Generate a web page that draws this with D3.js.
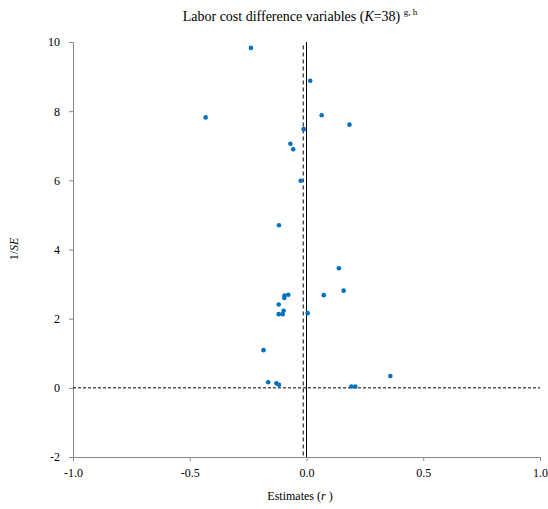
<!DOCTYPE html>
<html>
<head>
<meta charset="utf-8">
<script src="https://cdn.jsdelivr.net/npm/d3@7"></script>
<style>
  body { margin: 0; background: #fff; }
  svg text { font-family: "Liberation Serif", "Times New Roman", serif; }
</style>
</head>
<body>
<svg id="chart" width="548" height="509"></svg>
<script>
// Data (estimate r, precision 1/SE)
const estimates = [-0.238, -0.432, 0.016, 0.065, 0.184, -0.012, -0.069, -0.057,
  -0.025, -0.118, 0.139, 0.159, 0.074, -0.078, -0.094, -0.095, -0.119, -0.098,
  -0.119, -0.102, 0.005, -0.184, -0.164, -0.129, -0.118, 0.192, 0.209, 0.359];
const precisions = [9.83, 7.82, 8.88, 7.88, 7.61, 7.48, 7.06, 6.90,
  5.99, 4.70, 3.46, 2.81, 2.68, 2.69, 2.67, 2.60, 2.41, 2.23,
  2.13, 2.13, 2.16, 1.09, 0.16, 0.13, 0.09, 0.04, 0.04, 0.34];
const xTicks = [-1.0, -0.5, 0.0, 0.5, 1.0];
const yTicks = [-2, 0, 2, 4, 6, 8, 10];
const meanEstimate = -0.014;

const svg = d3.select("#chart");
const x = d3.scaleLinear().domain([-1, 1]).range([73, 540]);
const y = d3.scaleLinear().domain([-2, 10]).range([457, 42]);
const hy = s => s.replace("\u2212", "-");

// Axes
const xAxis = svg.append("g").attr("transform", `translate(0,${y(-2)})`)
  .call(d3.axisBottom(x).tickValues(xTicks).tickFormat(d => hy(d3.format(".1f")(d))).tickSizeOuter(0).tickSize(4));
const yAxis = svg.append("g").attr("transform", `translate(${x(-1)},0)`)
  .call(d3.axisLeft(y).tickValues(yTicks).tickFormat(d => hy(String(d))).tickSizeOuter(0).tickSize(4));
[xAxis, yAxis].forEach(g => {
  g.attr("font-family", "Liberation Serif").attr("font-size", 12);
  g.selectAll("path, line").attr("stroke", "#888").attr("stroke-width", 1);
  g.selectAll("text").attr("fill", "#000");
});
xAxis.selectAll("text").attr("dy", "1.05em");
yAxis.selectAll("text").attr("x", -13);

// Reference lines
svg.append("line").attr("x1", x(-1)).attr("x2", x(1)).attr("y1", y(0)).attr("y2", y(0))
  .attr("stroke", "#000").attr("stroke-width", 1).attr("stroke-dasharray", "3,2");
svg.append("line").attr("x1", x(0)).attr("x2", x(0)).attr("y1", y(10)).attr("y2", y(-2))
  .attr("stroke", "#000").attr("stroke-width", 1);
svg.append("line").attr("x1", x(meanEstimate)).attr("x2", x(meanEstimate)).attr("y1", y(9.9)).attr("y2", y(-2))
  .attr("stroke", "#000").attr("stroke-width", 1).attr("stroke-dasharray", "4,3");

// Points
svg.append("g").selectAll("circle").data(estimates.map((e, i) => [e, precisions[i]]))
  .join("circle")
  .attr("cx", d => x(d[0])).attr("cy", d => y(d[1])).attr("r", 2.3)
  .attr("fill", "#0070C0");

// Title
const title = svg.append("text").attr("x", 300).attr("y", 21).attr("text-anchor", "middle")
  .attr("font-size", 14);
title.append("tspan").text("Labor cost difference variables (");
title.append("tspan").style("font-style", "italic").text("K");
title.append("tspan").text("=38) ");
title.append("tspan").attr("dy", -6).attr("font-size", 9).text("g, h");

// X label
const xl = svg.append("text").attr("x", 300).attr("y", 500).attr("text-anchor", "middle")
  .attr("font-size", 12);
xl.append("tspan").text("Estimates (");
xl.append("tspan").style("font-style", "italic").text("r");
xl.append("tspan").text(" )");

// Y label
const yl = svg.append("text").attr("transform", `translate(18,249) rotate(-90)`)
  .attr("text-anchor", "middle").attr("font-size", 12);
yl.append("tspan").text("1/");
yl.append("tspan").style("font-style", "italic").text("SE");
</script>
</body>
</html>
